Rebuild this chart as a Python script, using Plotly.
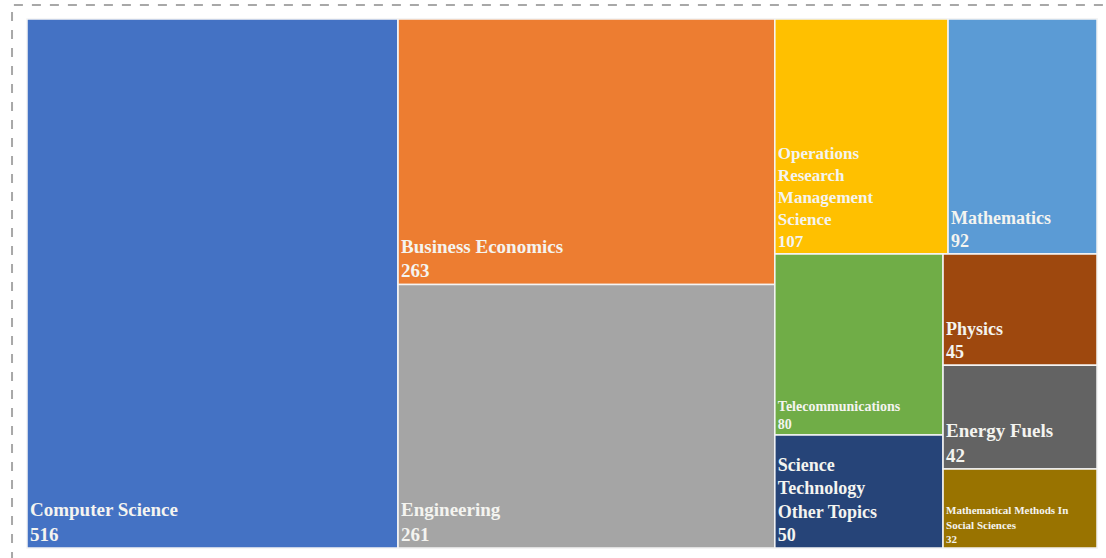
import plotly.graph_objects as go

# ---- data ----
categories = ["Computer Science", "Business Economics", "Engineering",
              "Operations Research Management Science", "Mathematics",
              "Telecommunications", "Science Technology Other Topics",
              "Physics", "Energy Fuels", "Mathematical Methods In Social Sciences"]
display_names = ["Computer Science", "Business Economics", "Engineering",
                 "Operations<br>Research<br>Management<br>Science", "Mathematics",
                 "Telecommunications", "Science<br>Technology<br>Other Topics",
                 "Physics", "Energy Fuels", "Mathematical Methods In<br>Social Sciences"]
counts = [516, 263, 261, 107, 92, 80, 50, 45, 42, 32]
colors = ["#4472C4", "#ED7D31", "#A5A5A5", "#FFC000", "#5B9BD5",
          "#70AD47", "#264478", "#9E480E", "#636363", "#997300"]
font_sizes = [19, 19, 19, 17, 18, 14, 18, 18, 19, 11]

# grouping used to reproduce the tile arrangement
groups = ["g2", "g3", "g3top", "g3bot", "g3a", "g3b"]
group_parents = ["", "", "g3", "g3", "g3bot", "g3bot"]
leaf_parents = ["", "g2", "g2", "g3top", "g3top", "g3a", "g3a", "g3b", "g3b", "g3b"]

ids, labels, parents, values, texts, mcolors, tsizes, ttempl = [], [], [], [], [], [], [], []


def add_leaf(i):
    ids.append(categories[i]); labels.append(categories[i]); parents.append(leaf_parents[i])
    values.append(counts[i]); texts.append(display_names[i]); mcolors.append(colors[i])
    tsizes.append(font_sizes[i]); ttempl.append("<b>%{text}<br>%{value}</b>")


def add_group(g):
    j = groups.index(g)
    ids.append(g); labels.append(""); parents.append(group_parents[j])
    values.append(0); texts.append(""); mcolors.append("rgba(0,0,0,0)")
    tsizes.append(1); ttempl.append(" ")


add_leaf(0)
add_group("g2")
add_leaf(1); add_leaf(2)
add_group("g3")
add_group("g3top")
add_leaf(3); add_leaf(4)
add_group("g3bot")
add_group("g3a")
add_leaf(5); add_leaf(6)
add_group("g3b")
add_leaf(7); add_leaf(8); add_leaf(9)

fig = go.Figure(go.Treemap(
    ids=ids, labels=labels, parents=parents, values=values, text=texts,
    branchvalues="remainder", sort=False,
    texttemplate=ttempl, textposition="bottom left",
    textfont=dict(family="Liberation Serif", size=tsizes, color="#F4F4F0"),
    marker=dict(colors=mcolors, line=dict(color="#F4F4F4", width=1.5),
                pad=dict(t=0, l=0, r=0, b=0)),
    tiling=dict(packing="slice-dice", pad=0),
    pathbar=dict(visible=False),
    hoverinfo="label+value",
))

fig.update_layout(
    width=1106, height=558,
    margin=dict(l=27, r=9, t=19, b=10),
    paper_bgcolor="white",
    shapes=[dict(type="rect", xref="paper", yref="paper",
                 x0=-0.014, x1=1.05, y0=-0.1, y1=1.0265,
                 line=dict(color="#A8A8A8", width=2, dash="dash"))],
)

fig.write_html("out.html")
